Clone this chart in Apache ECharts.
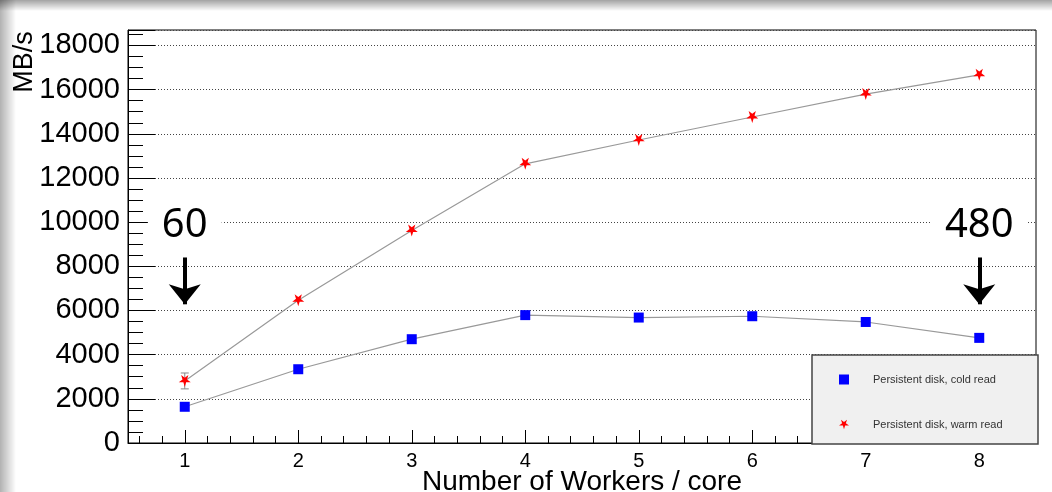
<!DOCTYPE html>
<html>
<head>
<meta charset="utf-8">
<script src="https://cdn.jsdelivr.net/npm/echarts@6/dist/echarts.min.js"></script>
<style>
  html, body { margin: 0; padding: 0; background: #fff; }
  #wrap { position: relative; width: 1052px; height: 492px; overflow: hidden; }
  #main { width: 1052px; height: 492px; }
  /* grey shading along the top and left edge of the picture */
  .shade { position: absolute; pointer-events: none; }
  #shadeTop { left: 0; top: 0; width: 1052px; height: 11px;
              background: linear-gradient(to bottom, rgba(0,0,0,0.36), rgba(0,0,0,0)); }
  #shadeLeft { left: 0; top: 0; width: 16px; height: 492px;
               background: linear-gradient(to right, rgba(0,0,0,0.3), rgba(0,0,0,0)); }
</style>
</head>
<body>
<div id="wrap">
  <div id="main"></div>
  <div id="shadeTop" class="shade"></div>
  <div id="shadeLeft" class="shade"></div>
</div>
<script>
// workers per core
var workers = [1, 2, 3, 4, 5, 6, 7, 8];
// MB/s
var coldRead = [1640, 3340, 4700, 5790, 5680, 5740, 5480, 4760];
var warmRead = [2810, 6460, 9620, 12640, 13720, 14760, 15800, 16670];
// error bar on the first warm point
var warmErrX = [1];
var warmErrLow = [2450];
var warmErrHigh = [3170];

var starPath = 'path://M50,100 L61,65 L98,65 L68,43 L79,9 L50,30 L21,9 L32,43 L2,65 L39,65 Z';
var font = 'Liberation Sans';

function pairs(xs, ys) {
  return xs.map(function (x, i) { return [x, ys[i]]; });
}

var errData = warmErrX.map(function (x, i) { return [x, warmErrLow[i], warmErrHigh[i]]; });

var option = {
  animation: false,
  grid: {
    left: 128, right: 16, top: 30, bottom: 49,
    outerBoundsMode: 'none',
    containLabel: false,
    show: true, borderColor: '#000', borderWidth: 1, backgroundColor: 'transparent'
  },
  xAxis: {
    type: 'value',
    min: 0.5,
    max: 8.5,
    splitNumber: 8,
    name: 'Number of Workers / core',
    nameLocation: 'middle',
    nameMoveOverlap: false,
    nameGap: 25,
    nameTextStyle: { fontFamily: font, fontSize: 28, color: '#000' },
    axisLine: { lineStyle: { color: '#000', width: 1 } },
    axisTick: { inside: true, length: 13, lineStyle: { color: '#000' } },
    minorTick: { show: true, splitNumber: 5, length: 7, lineStyle: { color: '#000' } },
    axisLabel: {
      fontFamily: font, fontSize: 20, color: '#000', margin: 8,
      showMinLabel: false, showMaxLabel: false,
      formatter: function (v) { return String(v); }
    },
    splitLine: { show: false }
  },
  yAxis: {
    type: 'value',
    min: 0,
    max: 18700,
    interval: 2000,
    axisLine: { show: true, lineStyle: { color: '#000', width: 1 } },
    axisTick: { show: true, inside: true, length: 27, lineStyle: { color: '#000' } },
    minorTick: { show: true, splitNumber: 4, length: 15, lineStyle: { color: '#000' } },
    axisLabel: {
      fontFamily: font, fontSize: 29, color: '#000', margin: 8, showMaxLabel: false,
      formatter: function (v) { return String(v); }
    },
    splitLine: { show: true, lineStyle: { color: '#444', width: 1, type: [1, 2] } }
  },
  legend: {
    orient: 'vertical',
    left: 834,
    top: 369,
    z: 20,
    itemWidth: 10,
    itemHeight: 10,
    itemGap: 34,
    textStyle: { fontFamily: font, fontSize: 11, color: '#333', padding: [10, 0, 0, 19] },
    data: [
      { name: 'Persistent disk, cold read', icon: 'rect' },
      { name: 'Persistent disk, warm read', icon: starPath }
    ]
  },
  graphic: [
    {
      type: 'rect', z: 15,
      shape: { x: 812, y: 355, width: 226, height: 89 },
      style: { fill: '#f0f0f0', stroke: '#444', lineWidth: 1.5 }
    },
    {
      type: 'text', z: 15,
      x: 25, y: 62, rotation: Math.PI / 2,
      style: { text: 'MB/s', font: '27px "Liberation Sans"', fill: '#000', align: 'center', verticalAlign: 'middle' }
    }
  ],
  series: [
    {
      name: 'warm error',
      type: 'custom',
      z: 1,
      data: errData,
      renderItem: function (params, api) {
        var lo = api.coord([api.value(0), api.value(1)]);
        var hi = api.coord([api.value(0), api.value(2)]);
        var cap = 4;
        var st = { stroke: '#888', lineWidth: 1 };
        return {
          type: 'group',
          children: [
            { type: 'line', shape: { x1: lo[0], y1: lo[1], x2: hi[0], y2: hi[1] }, style: st },
            { type: 'line', shape: { x1: lo[0] - cap, y1: lo[1], x2: lo[0] + cap, y2: lo[1] }, style: st },
            { type: 'line', shape: { x1: hi[0] - cap, y1: hi[1], x2: hi[0] + cap, y2: hi[1] }, style: st }
          ]
        };
      }
    },
    {
      name: 'Persistent disk, cold read',
      type: 'line',
      z: 3,
      data: pairs(workers, coldRead),
      symbol: 'rect',
      symbolSize: 10,
      itemStyle: { color: '#0000ff' },
      lineStyle: { color: '#999', width: 1.2 },
      markLine: {
        silent: true,
        symbol: ['none', 'arrow'],
        symbolSize: [24, 20],
        lineStyle: { color: '#000', width: 4, type: 'solid' },
        itemStyle: { color: '#000' },
        label: {
          show: true, position: 'start', distance: 12,
          fontFamily: 'Noto Sans', fontSize: 40, color: '#000',
          backgroundColor: '#fff', padding: [0, 14]
        },
        data: [
          [{ coord: [1, 8400], label: { formatter: '60' } }, { coord: [1, 6280] }],
          [{ coord: [8, 8400], label: { formatter: '480' } }, { coord: [8, 6280] }]
        ]
      }
    },
    {
      name: 'Persistent disk, warm read',
      type: 'line',
      z: 3,
      data: pairs(workers, warmRead),
      symbol: starPath,
      symbolSize: 12,
      itemStyle: { color: '#ff0000' },
      lineStyle: { color: '#999', width: 1.2 }
    }
  ]
};

var chart = echarts.init(document.getElementById('main'));
chart.setOption(option);
</script>
</body>
</html>
